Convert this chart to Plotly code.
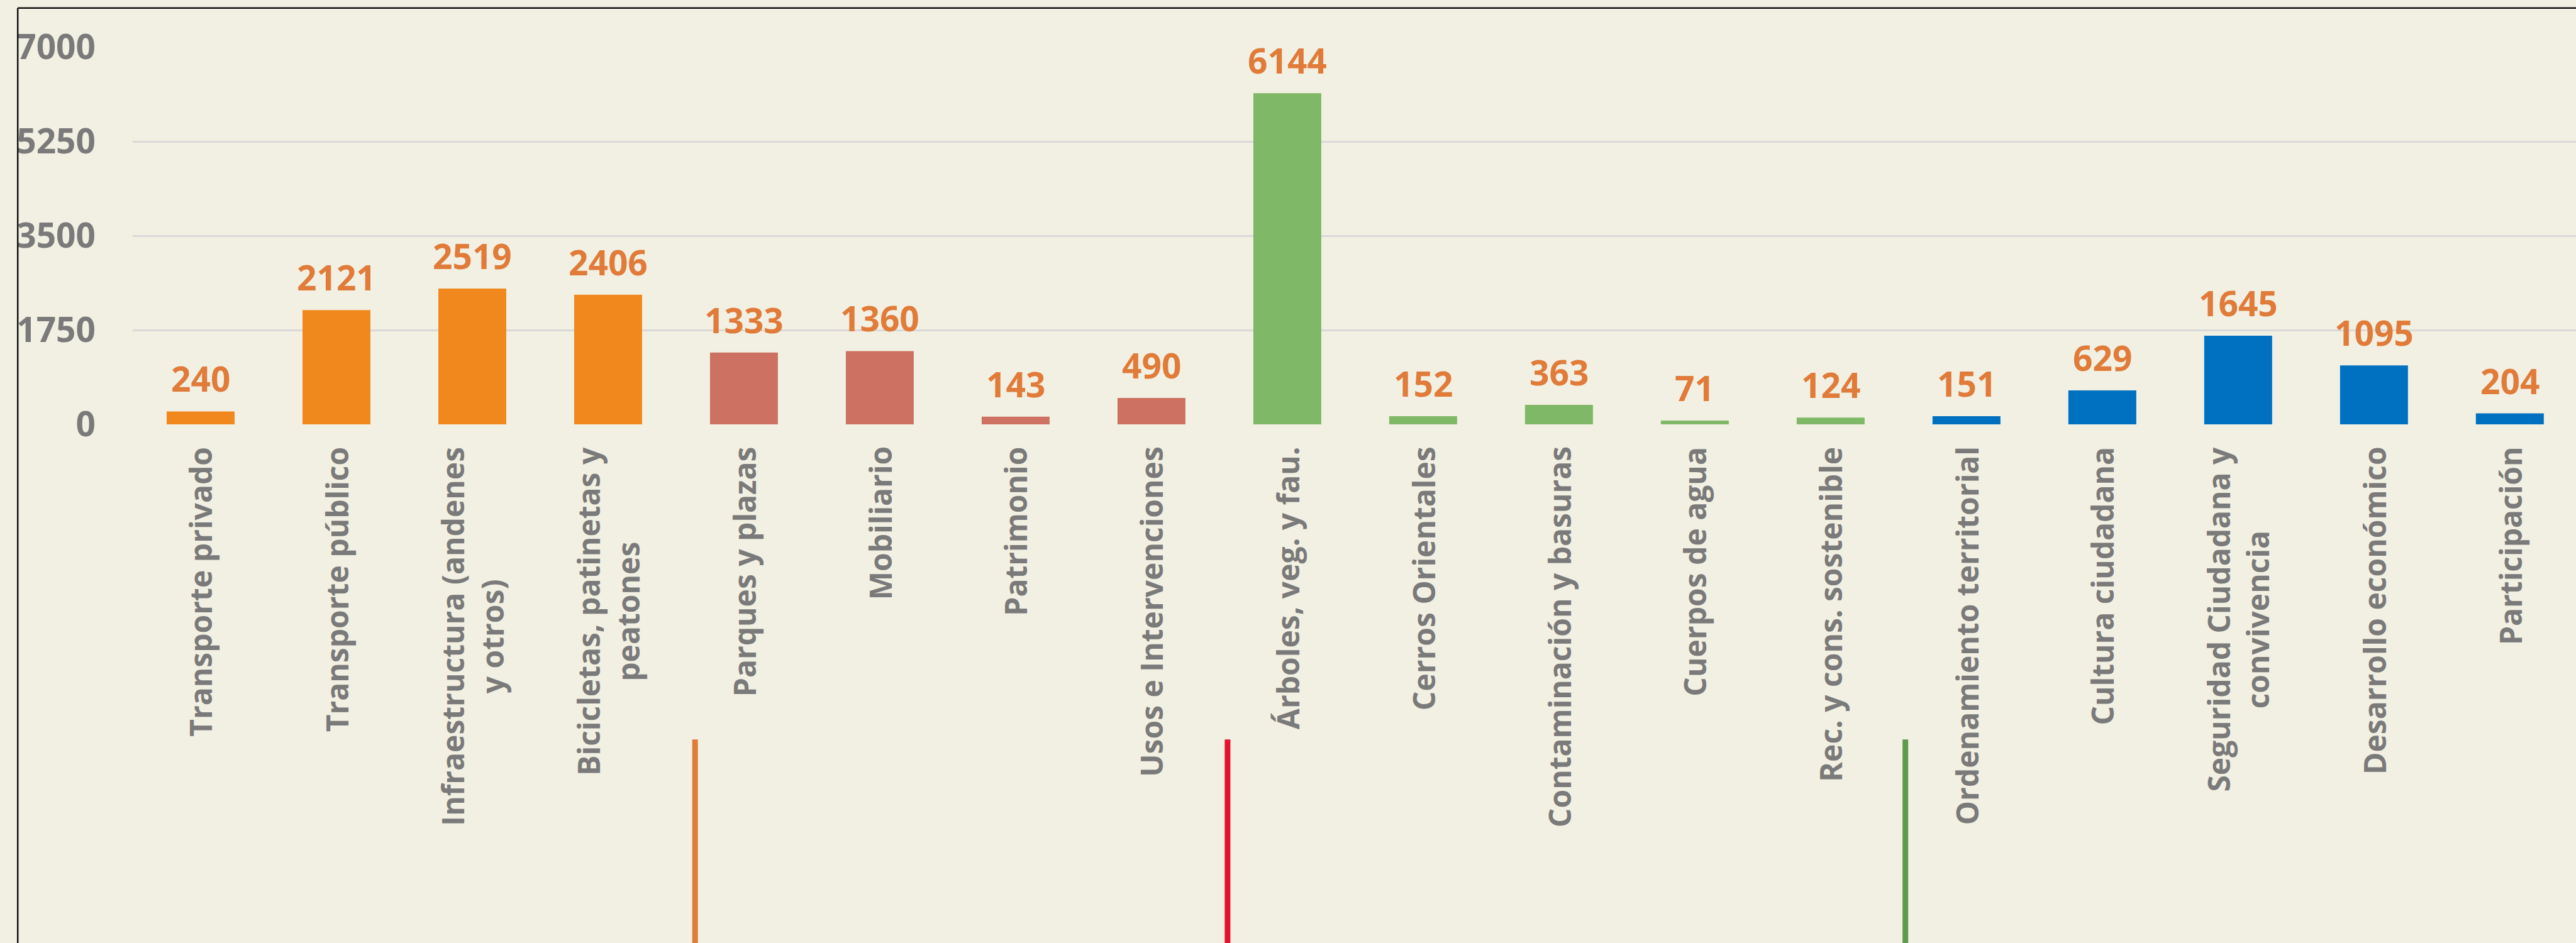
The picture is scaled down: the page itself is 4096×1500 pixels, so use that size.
import plotly.graph_objects as go

# ---------------- data ----------------
categories = [
    "Transporte privado", "Transporte público", "Infraestructura (andenes<br>y otros)",
    "Bicicletas, patinetas y<br>peatones", "Parques y plazas", "Mobiliario", "Patrimonio",
    "Usos e Intervenciones", "Árboles, veg. y fau.", "Cerros Orientales",
    "Contaminación y basuras", "Cuerpos de agua", "Rec. y cons. sostenible",
    "Ordenamiento territorial", "Cultura ciudadana", "Seguridad Ciudadana y<br>convivencia",
    "Desarrollo económico", "Participación",
]
values = [240, 2121, 2519, 2406, 1333, 1360, 143, 490, 6144, 152, 363, 71, 124, 151, 629, 1645, 1095, 204]
groups = ["mov"] * 4 + ["esp"] * 4 + ["amb"] * 5 + ["soc"] * 5
y_ticks = [0, 1750, 3500, 5250, 7000]

# ---------------- styles ----------------
S = 4096 / 4210
W, H = 4096, 1500
BG = "#F2F0E2"
GRAY = "#7A7A7A"
LABEL_ORANGE = "#E07B39"
group_colors = {"mov": "#F0881E", "esp": "#CD7262", "amb": "#7FB866", "soc": "#0070C0"}
FONT = "Open Sans"

ML, MT = 211, 75
PH = 600
MB = H - MT - PH
PW = W - ML
spacing = 222 * S
xr = [-0.5, -0.5 + PW / spacing]

def px_to_paper_x(px):
    return (px - ML) / PW

def px_to_paper_y(py):
    return (MT + PH - py) / PH

fig = go.Figure()
fig.add_trace(go.Bar(
    x=categories, y=values,
    marker=dict(color=[group_colors[g] for g in groups], line=dict(width=0)),
    hoverinfo="x+y", showlegend=False,
))

annotations = []
# value labels
for c, v in zip(categories, values):
    annotations.append(dict(
        x=c, y=v, xref="x", yref="y", text=str(v), showarrow=False,
        yanchor="bottom", xanchor="center", yshift=13,
        font=dict(family=FONT, size=55, color=LABEL_ORANGE, weight=700),
    ))
# category labels (rotated, centered lines)
for c in categories:
    annotations.append(dict(
        x=c, y=px_to_paper_y(728 * S), xref="x", yref="paper", text=c, showarrow=False,
        textangle=-90, xanchor="center", yanchor="top", align="center",
        font=dict(family=FONT, size=48, color=GRAY, weight=700),
    ))

shapes = []
# frame (left and top edges visible)
fx = px_to_paper_x(29 * S)
fy = px_to_paper_y(13 * S)
shapes.append(dict(type="line", xref="paper", yref="paper", x0=fx, x1=fx, y0=fy, y1=-1.5,
                   line=dict(color="#111111", width=2.5)))
shapes.append(dict(type="line", xref="paper", yref="paper", x0=fx, x1=1.05, y0=fy, y1=fy,
                   line=dict(color="#111111", width=2.5)))
# group separators
sep_positions = [3.64, 7.56, 12.55]
sep_colors = ["#E07B39", "#E8102E", "#5E9A4F"]
for p, col in zip(sep_positions, sep_colors):
    xp = (p - xr[0]) / (xr[1] - xr[0])
    shapes.append(dict(type="line", xref="paper", yref="paper", x0=xp, x1=xp,
                       y0=px_to_paper_y(1209 * S), y1=-1.5, line=dict(color=col, width=9)))

fig.update_layout(
    width=W, height=H,
    margin=dict(l=ML, r=0, t=MT, b=MB, pad=0),
    paper_bgcolor=BG, plot_bgcolor=BG,
    bargap=0.5,
    font=dict(family=FONT, color=GRAY),
    annotations=annotations,
    shapes=shapes,
    xaxis=dict(range=xr, showticklabels=False, showgrid=False, zeroline=False, showline=False,
               ticks=""),
    yaxis=dict(range=[0, 7000], tickvals=y_ticks, ticktext=[str(t) for t in y_ticks],
               showgrid=True, gridcolor="#D9D9D9", gridwidth=3, zeroline=False, showline=False,
               ticks="", ticklabelstandoff=58,
               tickfont=dict(family=FONT, size=55, color=GRAY, weight=700)),
)

fig.write_html(
    "out.html",
    config={"displayModeBar": False},
    post_script="document.body.style.margin='0';document.body.style.overflow='hidden';"
                "document.body.style.background='" + BG + "';",
)
